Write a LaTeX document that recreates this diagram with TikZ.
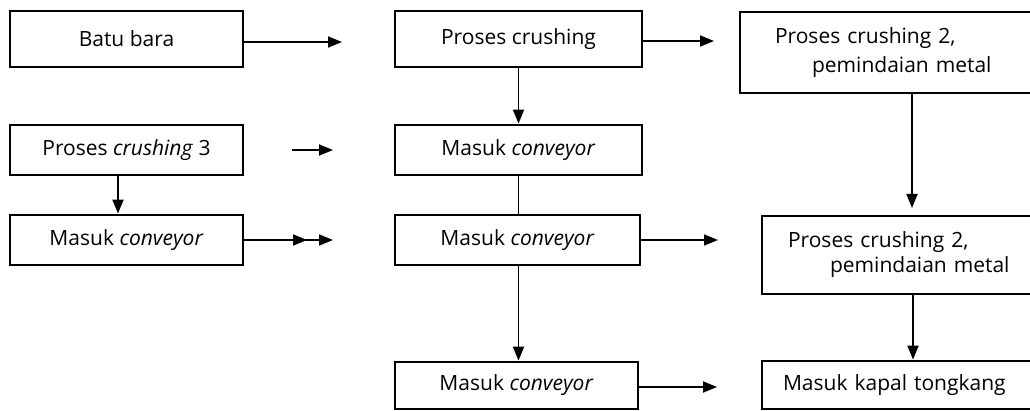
\documentclass[tikz,border=0pt]{standalone}
\usepackage{fontspec}
\setmainfont{Open Sans}
\usetikzlibrary{arrows.meta,positioning}
\begin{document}
\begin{tikzpicture}[x=1pt,y=1pt,
  box/.style={draw, line width=2.8pt, inner sep=0pt, font=\fontsize{21}{29}\selectfont},
  conn/.style={line width=1.8pt},
  arr/.style={conn, -{Triangle[length=14pt,width=11pt]}}]
\useasboundingbox (0,0) rectangle (1030,-411);
\clip (0,0) rectangle (1030,-411);
\fill[white] (0,0) rectangle (1030,-411);
% left column
\node[box, minimum width=233pt, minimum height=56pt] (b1) at (126.5,-39) {Batu bara};
\node[box, minimum width=233pt, minimum height=50pt] (l1) at (126.5,-150) {Proses \textit{crushing} 3};
\node[box, minimum width=233pt, minimum height=50pt] (l2) at (126.5,-240) {Masuk \textit{conveyor}};
% middle column
\node[box, minimum width=247pt, minimum height=56pt] (b2) at (518.5,-39) {Proses crushing};
\node[box, minimum width=247pt, minimum height=50pt] (m1) at (518.5,-150) {Masuk \textit{conveyor}};
\node[box, minimum width=245pt, minimum height=50pt] (m2) at (517.5,-240) {Masuk \textit{conveyor}};
\node[box, minimum width=243pt, minimum height=47pt] (m3) at (516.5,-385.5) {Masuk \textit{conveyor}};
% right column
\node[box, minimum height=81pt, inner xsep=35pt, text width=235pt, align=left] (b3) at (892.5,-52.5)
  {Proses crushing 2,\\\hspace*{37pt}pemindaian metal};
\node[box, minimum height=78pt, inner xsep=26pt, text width=261pt, align=left,
      font=\fontsize{21}{25}\selectfont] (r2) at (918.5,-255)
  {Proses crushing 2,\\\hspace*{42pt}pemindaian metal};
\node[box, minimum height=48pt, inner xsep=21pt, text width=271pt, align=left] (r3) at (918.5,-385)
  {Masuk kapal tongkang};
% free ends
\coordinate (e1) at (342,-42);
\coordinate (e2) at (714,-41);
\coordinate (e3) at (912,-208);
\coordinate (s1) at (292,-150);
\coordinate (s2) at (333,-150);
\coordinate (e4a) at (307,-240);
\coordinate (e4) at (333,-240);
\coordinate (e5) at (718,-240);
\coordinate (e6) at (717,-387);
% connectors
\draw[arr] (b1.east |- e1) -- (e1);
\draw[arr] (b2.east |- e2) -- (e2);
\draw[arr] (b3.south -| e3) -- (e3);
\draw[arr] (s1) -- (s2);
\draw[arr] (l1.south -| 118,0) -- (l2.north -| 118,0);
\draw[arr] (l2.east) -- (e4a);
\draw[arr] (l2.east) -- (e4);
\draw[arr] (b2.south) -- (m1.north -| b2.south);
\draw[conn] (m1.south) -- (m2.north -| m1.south);
\draw[arr] (m2.east) -- (e5);
\draw[arr] (m2.south -| m1.south) -- (m3.north -| m1.south);
\draw[arr] (m3.east |- e6) -- (e6);
\draw[arr] (r2.south -| 913,0) -- (r3.north -| 913,0);
\end{tikzpicture}
\end{document}
